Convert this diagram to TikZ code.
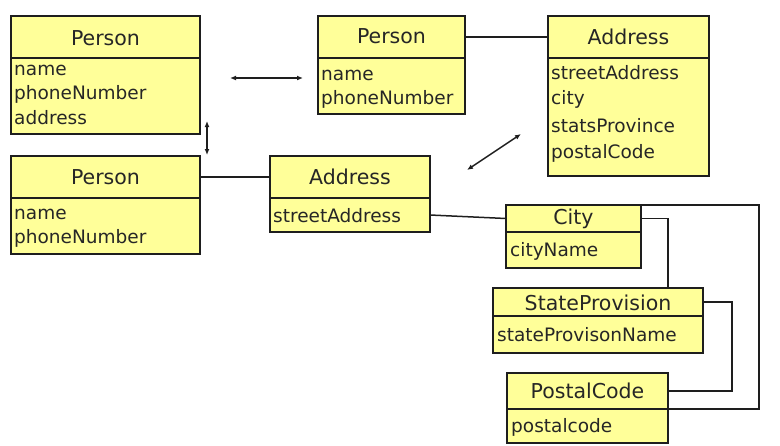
\documentclass[tikz,border=0pt]{standalone}
\usepackage{fontspec}
\setmainfont{DejaVu Sans}
\usetikzlibrary{calc,arrows.meta}
\definecolor{umlfill}{RGB}{255,255,153}
\definecolor{umlline}{RGB}{30,30,30}
\begin{document}
\begin{tikzpicture}[x=1pt,y=-1pt,
  boxpart/.style={draw=umlline, fill=umlfill, line width=1.6pt, inner sep=0pt, outer sep=0pt, anchor=north west},
  hdr/.style={font=\fontsize{20.5}{24}\selectfont, text=black!85},
  attr/.style={font=\fontsize{18.5}{22}\selectfont, text=black!85, anchor=west, inner sep=0pt},
  conn/.style={draw=umlline, line width=1.5pt},
  dbl/.style={conn, <->, >={Latex[length=6pt,width=5pt]}}]
\useasboundingbox (0,0) rectangle (780,445);
% Person 1
\node[boxpart, minimum width=189pt, minimum height=42pt] (p1h) at (11,16) {};
\node[boxpart, minimum width=189pt, minimum height=76pt] (p1b) at (11,58) {};
\node[hdr] (p1t) at (105.5,38) {Person};
\node[attr] (p1a) at (14,70) {name};
\node[attr] (p1c) at (14,94) {phoneNumber};
\node[attr] (p1d) at (14,118) {address};
% Person 2
\node[boxpart, minimum width=147pt, minimum height=42pt] (p2h) at (318,16) {};
\node[boxpart, minimum width=147pt, minimum height=56pt] (p2b) at (318,58) {};
\node[hdr] (p2t) at (391.5,36) {Person};
\node[attr] (p2a) at (321,75) {name};
\node[attr] (p2c) at (321,99) {phoneNumber};
% Address 3
\node[boxpart, minimum width=161pt, minimum height=42pt] (a3h) at (548,16) {};
\node[boxpart, minimum width=161pt, minimum height=118pt] (a3b) at (548,58) {};
\node[hdr] (a3t) at (628.5,37) {Address};
\node[attr] (a3a) at (551,73) {streetAddress};
\node[attr] (a3c) at (551,99) {city};
\node[attr] (a3d) at (551,126) {statsProvince};
\node[attr] (a3e) at (551,153) {postalCode};
% Person 4
\node[boxpart, minimum width=189pt, minimum height=42pt] (p4h) at (11,156) {};
\node[boxpart, minimum width=189pt, minimum height=56pt] (p4b) at (11,198) {};
\node[hdr] (p4t) at (105.5,177) {Person};
\node[attr] (p4a) at (14,214) {name};
\node[attr] (p4c) at (14,238) {phoneNumber};
% Address 5
\node[boxpart, minimum width=160pt, minimum height=42pt] (a5h) at (270,156) {};
\node[boxpart, minimum width=160pt, minimum height=34pt] (a5b) at (270,198) {};
\node[hdr] (a5t) at (350,177) {Address};
\node[attr] (a5a) at (273,216) {streetAddress};
% City
\node[boxpart, minimum width=135pt, minimum height=27pt] (cyh) at (506,205) {};
\node[boxpart, minimum width=135pt, minimum height=36pt] (cyb) at (506,232) {};
\node[hdr] (cyt) at (573.5,219) {City};
\node[attr] (cya) at (510,251) {cityName};
% StateProvision
\node[boxpart, minimum width=210pt, minimum height=28pt] (sph) at (493,288) {};
\node[boxpart, minimum width=210pt, minimum height=37pt] (spb) at (493,316) {};
\node[hdr] (spt) at (598,303) {StateProvision};
\node[attr] (spa) at (497,335) {stateProvisonName};
% PostalCode
\node[boxpart, minimum width=161pt, minimum height=36pt] (pch) at (507,373) {};
\node[boxpart, minimum width=161pt, minimum height=34pt] (pcb) at (507,409) {};
\node[hdr] (pct) at (587.5,391) {PostalCode};
\node[attr] (pca) at (511,427) {postalcode};
% free arrows
\coordinate (h1) at (230,78); \coordinate (h2) at (303,78);
\coordinate (v1) at (207,121); \coordinate (v2) at (207,155);
\coordinate (d1) at (467,170); \coordinate (d2) at (521,134);
\draw[dbl] (h1) -- (h2);
\draw[dbl] (v1) -- (v2);
\draw[dbl] (d1) -- (d2);
% associations
\draw[conn] (p2h.east) -- (a3h.west);
\draw[conn] (p4h.east) -- (a5h.west);
\draw[conn] (a5b.east) -- (cyh.west);
\draw[conn] (cyh.east) -| (sph.north -| pch.east);
\draw[conn] (sph.east) -- ++(29,0) |- (pch.east);
\draw[conn] (cyh.north east) -- ++(118,0) |- (pch.south east);
\end{tikzpicture}
\end{document}
